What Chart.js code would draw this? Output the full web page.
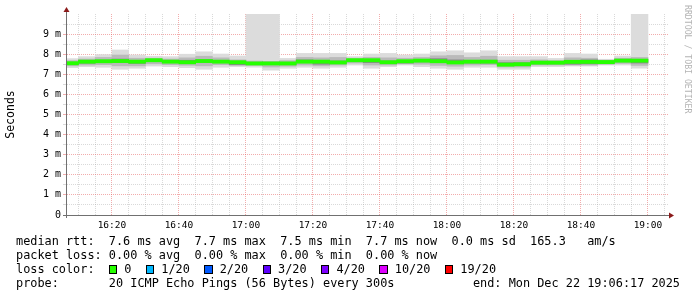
<!DOCTYPE html>
<html lang="en">
<head>
<meta charset="utf-8">
<title>SmokePing</title>
<script src="https://cdn.jsdelivr.net/npm/chart.js@4.4.1/dist/chart.umd.min.js"></script>
<style>
  html, body { margin: 0; padding: 0; background: #fff; }
  #contenedor { position: relative; width: 697px; height: 297px; overflow: hidden; }
  #grafica { position: absolute; left: 0; top: 0; }
  .linea { position: absolute; left: 16px; font-family: 'DejaVu Sans Mono', monospace; font-size: 11.86px; line-height: 14px; color: #000; white-space: pre; }
  .caja { display: inline-block; width: 6.4px; height: 7px; border: 1px solid #000; vertical-align: -1px; }
  #firma { position: absolute; left: 683px; top: 5px; writing-mode: vertical-rl; font-family: 'DejaVu Sans Mono', monospace; font-size: 8.2px; line-height: 9px; color: #b4b4b4; white-space: pre; }
</style>
</head>
<body>
<div id="contenedor">
  <canvas id="grafica" width="697" height="297"></canvas>
  <div id="firma">RRDTOOL / TOBI OETIKER</div>
  <div class="linea" style="top:234px">median rtt:  7.6 ms avg  7.7 ms max  7.5 ms min  7.7 ms now  0.0 ms sd  165.3   am/s</div>
  <div class="linea" style="top:248px">packet loss: 0.00 % avg  0.00 % max  0.00 % min  0.00 % now</div>
  <div class="linea" id="perdida" style="top:262px">loss color:  </div>
  <div class="linea" style="top:276px">probe:       20 ICMP Echo Pings (56 Bytes) every 300s</div>
  <div class="linea" style="top:276px;left:auto;right:17px">end: Mon Dec 22 19:06:17 2025</div>
</div>
<script>
// fin de cada intervalo de 5 minutos (300 s)
const intervalos = [
  '16:10', '16:15', '16:20', '16:25', '16:30', '16:35', '16:40', '16:45', '16:50', '16:55',
  '17:00', '17:05', '17:10', '17:15', '17:20', '17:25', '17:30', '17:35', '17:40', '17:45',
  '17:50', '17:55', '18:00', '18:05', '18:10', '18:15', '18:20', '18:25', '18:30', '18:35',
  '18:40', '18:45', '18:50', '18:55', '19:00'
];

// rtt mediano (ms)
const mediana = [
  7.55, 7.63, 7.65, 7.66, 7.63, 7.70, 7.63, 7.60, 7.66, 7.63,
  7.60, 7.54, 7.54, 7.54, 7.63, 7.63, 7.59, 7.70, 7.70, 7.60,
  7.65, 7.68, 7.65, 7.59, 7.63, 7.63, 7.48, 7.50, 7.58, 7.58,
  7.62, 7.62, 7.61, 7.68, 7.68
];

// humo: bandas de pings alrededor de la mediana (ms)
const interiorBajo = [
  7.50, 7.55, 7.58, 7.60, 7.54, 7.64, 7.58, 7.56, 7.60, 7.58,
  7.48, 7.50, 7.50, 7.48, 7.58, 7.50, 7.54, 7.64, 7.58, 7.55,
  7.56, 7.62, 7.60, 7.54, 7.56, 7.56, 7.44, 7.46, 7.52, 7.52,
  7.50, 7.52, 7.56, 7.62, 7.56
];
const interiorAlto = [
  7.60, 7.66, 7.70, 7.76, 7.68, 7.74, 7.68, 7.70, 7.72, 7.68,
  7.64, 7.58, 7.58, 7.60, 7.72, 7.66, 7.66, 7.74, 7.74, 7.66,
  7.68, 7.72, 7.78, 7.72, 7.68, 7.70, 7.58, 7.58, 7.62, 7.62,
  7.66, 7.72, 7.66, 7.72, 7.74
];
const medioBajo = [
  7.42, 7.46, 7.48, 7.42, 7.42, 7.52, 7.48, 7.45, 7.42, 7.48,
  7.44, 7.44, 7.36, 7.40, 7.46, 7.42, 7.46, 7.56, 7.46, 7.46,
  7.52, 7.50, 7.44, 7.40, 7.46, 7.48, 7.36, 7.36, 7.46, 7.46,
  7.46, 7.46, 7.50, 7.54, 7.44
];
const medioAlto = [
  7.68, 7.76, 7.84, 7.96, 7.80, 7.80, 7.76, 7.82, 7.90, 7.82,
  7.72, 7.66, 7.64, 7.68, 7.84, 7.82, 7.84, 7.80, 7.84, 7.82,
  7.80, 7.84, 7.92, 7.94, 7.84, 7.90, 7.70, 7.70, 7.72, 7.68,
  7.82, 7.80, 7.70, 7.80, 7.84
];
const exteriorBajo = [
  7.33, 7.38, 7.35, 7.25, 7.30, 7.41, 7.38, 7.33, 7.25, 7.35,
  7.38, 7.35, 7.21, 7.30, 7.35, 7.30, 7.35, 7.46, 7.30, 7.38,
  7.46, 7.38, 7.30, 7.25, 7.35, 7.35, 7.25, 7.25, 7.38, 7.38,
  7.41, 7.41, 7.46, 7.46, 7.30
];
const exteriorAlto = [
  7.78, 7.88, 7.98, 8.21, 7.96, 7.90, 7.88, 8.00, 8.12, 8.01,
  7.91, 10.0, 10.0, 7.79, 8.04, 8.04, 8.04, 7.88, 8.01, 8.04,
  7.96, 8.01, 8.12, 8.17, 8.07, 8.17, 7.88, 7.88, 7.88, 7.79,
  8.04, 8.01, 7.75, 7.91, 10.0
];

// leyenda de pérdida de paquetes
const etiquetasPerdida = ['0', '1/20', '2/20', '3/20', '4/20', '10/20', '19/20'];
const coloresPerdida = ['#26ff00', '#00b8ff', '#0059ff', '#5e00ff', '#7e00ff', '#dd00ff', '#ff0000'];

(function() {

    // minutos desde las 16:00
    const aMinutos = hora => {
        const [h, m] = hora.split(':').map(Number);
        return (h - 16) * 60 + m;
    };
    const aHora = min => (16 + Math.floor(min / 60)) + ':' + String(min % 60).padStart(2, '0');

    // ventana 16:06:17 - 19:06:17
    const inicio = 6 + 17 / 60;
    const fin = inicio + 180;
    const grosorMediana = 0.08;

    const centros = intervalos.map(h => aMinutos(h) - 2.5);
    const banda = (bajo, alto) => centros.map((x, i) => ({ x: x, y: [bajo[i], alto[i]] }));

    // marcas verticales cada 5 minutos
    const marcasX = [];
    for (let m = 10; m < fin; m += 5) marcasX.push(m);

    const rojo = 'rgba(230, 90, 90, 0.5)';
    const gris = 'rgba(160, 160, 160, 0.4)';
    const fuente = 'DejaVu Sans Mono';

    // flechas de los ejes como en rrdtool
    const flechas = {
        id: 'flechas',
        afterDraw(chart) {
            const { ctx, chartArea: { left, right, top, bottom } } = chart;
            ctx.save();
            ctx.strokeStyle = '#707070';
            ctx.lineWidth = 1;
            ctx.beginPath();
            ctx.moveTo(left + 0.5, bottom + 3);
            ctx.lineTo(left + 0.5, top - 4);
            ctx.moveTo(left - 3, bottom + 0.5);
            ctx.lineTo(right, bottom + 0.5);
            ctx.stroke();
            ctx.fillStyle = '#8b1a1a';
            ctx.beginPath();
            ctx.moveTo(left + 0.5, top - 7);
            ctx.lineTo(left - 2.5, top - 2);
            ctx.lineTo(left + 3.5, top - 2);
            ctx.closePath();
            ctx.fill();
            ctx.beginPath();
            ctx.moveTo(right + 5, bottom + 0.5);
            ctx.lineTo(right, bottom - 2.5);
            ctx.lineTo(right, bottom + 3.5);
            ctx.closePath();
            ctx.fill();
            ctx.restore();
        }
    };

    new Chart(document.getElementById('grafica'), {
        type: 'bar',
        data: {
            datasets: [
                {
                    label: 'median rtt',
                    data: centros.map((x, i) => ({ x: x, y: [mediana[i] - grosorMediana, mediana[i] + grosorMediana] })),
                    backgroundColor: coloresPerdida[0]
                },
                { label: 'interior', data: banda(interiorBajo, interiorAlto), backgroundColor: '#8a8a8a' },
                { label: 'medio', data: banda(medioBajo, medioAlto), backgroundColor: '#bababa' },
                { label: 'exterior', data: banda(exteriorBajo, exteriorAlto), backgroundColor: '#dcdcdc' }
            ]
        },
        options: {
            responsive: false,
            animation: false,
            layout: { padding: { top: 14, right: 28, left: 0, bottom: 0 } },
            datasets: {
                bar: { grouped: false, barPercentage: 1, categoryPercentage: 1, borderWidth: 0 }
            },
            plugins: {
                legend: { display: false },
                tooltip: { enabled: false }
            },
            scales: {
                x: {
                    type: 'linear',
                    min: inicio,
                    max: fin,
                    offset: false,
                    afterBuildTicks: escala => { escala.ticks = marcasX.map(v => ({ value: v })); },
                    afterFit: escala => { escala.height = 82; },
                    ticks: {
                        autoSkip: false,
                        maxRotation: 0,
                        padding: 5,
                        color: '#000',
                        font: { family: fuente, size: 9.5 },
                        callback: v => (v % 20 === 0 ? aHora(v) : '')
                    },
                    grid: {
                        offset: false,
                        drawTicks: false,
                        color: ctx => (ctx.tick ? (ctx.tick.value % 20 === 0 ? rojo : gris) : '#707070')
                    },
                    border: { color: '#707070', dash: [1, 1] }
                },
                y: {
                    min: 0,
                    max: 10,
                    afterFit: escala => { escala.width = 66; },
                    ticks: {
                        stepSize: 0.5,
                        autoSkip: false,
                        padding: 2,
                        color: '#000',
                        font: { family: fuente, size: 10 },
                        callback: v => (v % 1 !== 0 || v >= 10 ? '' : (v === 0 ? '0' : v + ' m'))
                    },
                    grid: {
                        tickLength: 3,
                        color: ctx => {
                            if (!ctx.tick) return '#707070';
                            const v = ctx.tick.value;
                            if (v === 0 || v >= 10) return 'rgba(0,0,0,0)';
                            return v % 1 === 0 ? rojo : gris;
                        }
                    },
                    border: { color: '#707070', dash: [1, 1] },
                    title: {
                        display: true,
                        text: 'Seconds',
                        color: '#000',
                        font: { family: fuente, size: 11.5 }
                    }
                }
            }
        },
        plugins: [flechas]
    });

    // cajas de color de pérdida
    const perdida = document.getElementById('perdida');
    etiquetasPerdida.forEach((etiqueta, i) => {
        const caja = document.createElement('span');
        caja.className = 'caja';
        caja.style.background = coloresPerdida[i];
        perdida.appendChild(caja);
        perdida.appendChild(document.createTextNode(' ' + etiqueta + '  '));
    });

})();
</script>
</body>
</html>
